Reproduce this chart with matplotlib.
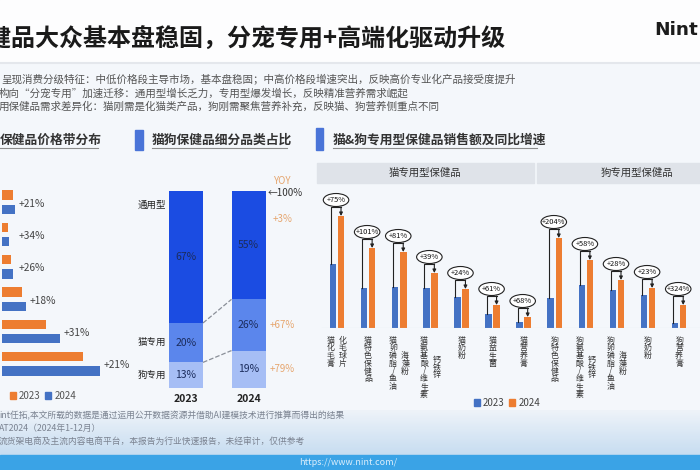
import numpy as np
import matplotlib
matplotlib.use('Agg')
import matplotlib.pyplot as plt
from matplotlib.patches import Rectangle, Ellipse, Patch

plt.rcParams['font.family'] = ['Noto Sans CJK SC', 'DejaVu Sans']

# ---------------- data ----------------
# price band distribution (bar length, 2023 vs 2024)
price_2023 = [10.5, 5.5, 8.5, 19.5, 44, 81]
price_2024 = [12.5, 7.0, 10.5, 24, 58, 98]
price_yoy = ['+21%', '+34%', '+26%', '+18%', '+31%', '+21%']

# category share (%)
share_years = ['2023', '2024']
share_types = ['通用型', '猫专用', '狗专用']
share_general = [67, 55]
share_cat = [20, 26]
share_dog = [13, 19]
share_yoy = ['+3%', '+67%', '+79%']

# cat & dog special health products
spec_labels = [('猫化毛膏', '化毛球片'), ('猫特色保健品', ''), ('猫卵磷脂/鱼油', '海藻粉'),
               ('猫氨基酸/维生素', '钙铁锌'), ('猫奶粉', ''), ('猫益生菌', ''), ('猫营养膏', ''),
               ('狗特色保健品', ''), ('狗氨基酸/维生素', '钙铁锌'), ('狗卵磷脂/鱼油', '海藻粉'),
               ('狗奶粉', ''), ('狗营养膏', '')]
spec_2023 = [64, 40, 41, 40, 31, 14, 6.5, 30, 43, 38, 33, 5.5]
spec_2024 = [112, 80, 76, 55, 39, 23, 11, 90, 68, 48, 40, 23]
spec_yoy = ['+75%', '+101%', '+81%', '+39%', '+24%', '+61%', '+68%',
            '+204%', '+58%', '+28%', '+23%', '+324%']

bullets = ['呈现消费分级特征：中低价格段主导市场，基本盘稳固；中高价格段增速突出，反映高价专业化产品接受度提升',
           '构向“分宠专用”加速迁移：通用型增长乏力，专用型爆发增长，反映精准营养需求崛起',
           '用保健品需求差异化：猫刚需是化猫类产品，狗刚需聚焦营养补充，反映猫、狗营养侧重点不同']
notes = ['int任拓,本文所载的数据是通过运用公开数据资源并借助AI建模技术进行推算而得出的结果',
         'AT2024（2024年1-12月）',
         '流货架电商及主流内容电商平台，本报告为行业快速报告，未经审计，仅供参考']

ORANGE = '#ed7d31'
BLUE = '#4472c4'
W, H = 700, 470

fig = plt.figure(figsize=(7, 4.7), dpi=100)


def px_axes(x0, y0, x1, y1):
    ax = fig.add_axes([x0 / W, 1 - y1 / H, (x1 - x0) / W, (y1 - y0) / H])
    ax.patch.set_alpha(0)
    return ax


# ---------------- background / page ----------------
ax0 = fig.add_axes([0, 0, 1, 1])
ax0.set_xlim(0, W)
ax0.set_ylim(H, 0)
ax0.axis('off')
ax0.add_patch(Rectangle((0, 0), W, H, color='#f4f7fb', zorder=0))
ax0.add_patch(Rectangle((0, 0), W, 62, color='#fdfdfe', zorder=0))
ax0.plot([0, W], [62.5, 62.5], color='#e4e7ec', lw=1.5, zorder=1)
grad = np.linspace(0, 1, 50).reshape(-1, 1)
ax0.imshow(grad, extent=[0, W, 455, 410], cmap=matplotlib.colors.LinearSegmentedColormap.from_list(
    'f', ['#eef3f9', '#c7ddf1']), aspect='auto', zorder=0)
ax0.add_patch(Rectangle((0, 455), W, 15, color='#3aa3e6', zorder=1))
ax0.text(348, 462.5, 'https://www.nint.com/', fontsize=6.5, color='#dbeefc', ha='center', va='center')

ax0.text(-36, 40, '保健品大众基本盘稳固，分宠专用+高端化驱动升级', fontsize=17.3, fontweight='bold',
         color='#1a1a1a', ha='left', va='center')
ax0.text(654, 30, 'Nint', fontsize=13.3, fontweight='bold', color='#1c1c1c', ha='left', va='center',
         family='DejaVu Sans')
for k, line in enumerate(bullets):
    ax0.text(1 if k == 0 else -1, 80 + 13.5 * k, line, fontsize=7.6, color='#555555', ha='left', va='center')
for k, line in enumerate(notes):
    ax0.text(-1, 416 + 12.5 * k, line, fontsize=6.3, color='#7a8290', ha='left', va='center')

# section titles
ax0.text(0, 140, '保健品价格带分布', fontsize=9.2, fontweight='bold', color='#333333', va='center')
ax0.plot([0, 98], [148, 148], color='#8c8c8c', lw=0.8)
ax0.add_patch(Rectangle((135, 130), 8, 20, color='#4a74d8'))
ax0.text(152, 140, '猫狗保健品细分品类占比', fontsize=9.2, fontweight='bold', color='#333333', va='center')
ax0.plot([152, 287], [148, 148], color='#8c8c8c', lw=0.8)
ax0.add_patch(Rectangle((316, 128), 7, 22, color='#4a74d8'))
ax0.text(333, 140, '猫&狗专用型保健品销售额及同比增速', fontsize=9.2, fontweight='bold', color='#333333',
         va='center')
ax0.plot([333, 537], [148, 148], color='#8c8c8c', lw=0.8)

# header boxes of right panel
ax0.add_patch(Rectangle((317, 163), 217, 20, color='#dfe3e9'))
ax0.add_patch(Rectangle((537, 163), 170, 20, color='#dfe3e9'))
ax0.text(425, 173, '猫专用型保健品', fontsize=7.5, color='#333333', ha='center', va='center')
ax0.text(637, 173, '狗专用型保健品', fontsize=7.5, color='#333333', ha='center', va='center')

# ---------------- left: price bands ----------------
ax1 = px_axes(2, 186, 130, 380)
y = np.arange(len(price_2023))
ax1.barh(y - 0.22, price_2023, height=0.29, color=ORANGE)
ax1.barh(y + 0.22, price_2024, height=0.29, color=BLUE)
for i, (v, t) in enumerate(zip(price_2024, price_yoy)):
    ax1.text(max(v, 13) + 4, i + 0.05, t, fontsize=7.3, color='#444444', va='center')
ax1.set_ylim(5.5, -0.5)
ax1.set_xlim(0, 128)
ax1.axis('off')
fig.legend(handles=[Patch(color=ORANGE), Patch(color=BLUE)], labels=['2023', '2024'],
           loc='center', bbox_to_anchor=(43 / W, 1 - 396 / H), ncol=2, frameon=False, fontsize=7,
           handlelength=0.6, handleheight=0.6, handletextpad=0.3, columnspacing=0.5, labelcolor='#555555')

# ---------------- middle: category share ----------------
ax2 = px_axes(148.5, 191, 286, 388)
x = np.arange(len(share_years))
bw = 0.544
ax2.bar(x, share_dog, width=bw, color='#a6bef5')
ax2.bar(x, share_cat, width=bw, bottom=share_dog, color='#5b86ec')
bottom_gen = np.array(share_dog) + np.array(share_cat)
ax2.bar(x, share_general, width=bw, bottom=bottom_gen, color='#1b4ce2')
for i in x:
    segs = [(share_dog[i], 0), (share_cat[i], share_dog[i]), (share_general[i], bottom_gen[i])]
    for v, b in segs:
        ax2.text(i, b + v / 2, f'{v}%', fontsize=7.5, color='#1b2c5c', ha='center', va='center')
# dashed connectors
ax2.plot([bw / 2, 1 - bw / 2], [bottom_gen[0], bottom_gen[1]], ls='--', color='#8a8f98', lw=0.9)
ax2.plot([bw / 2, 1 - bw / 2], [share_dog[0], share_dog[1]], ls='--', color='#8a8f98', lw=0.9)
# type labels
ax2.text(-0.54, 93, share_types[0], fontsize=6.8, color='#222222', ha='center', va='center')
ax2.text(-0.54, share_dog[0] + share_cat[0] / 2, share_types[1], fontsize=6.8, color='#222222',
         ha='center', va='center')
ax2.text(-0.54, share_dog[0] / 2, share_types[2], fontsize=6.8, color='#222222', ha='center', va='center')
# yoy
ax2.text(1.54, 105, 'YOY', fontsize=7, color='#e6a66f', ha='center', va='center')
ax2.text(1.3, 99, '←100%', fontsize=7, color='#333333', ha='left', va='center')
ax2.text(1.54, 86, share_yoy[0], fontsize=7, color='#e6a66f', ha='center', va='center')
ax2.text(1.54, share_dog[1] + share_cat[1] / 2, share_yoy[1], fontsize=7, color='#e6a66f',
         ha='center', va='center')
ax2.text(1.54, share_dog[1] / 2, share_yoy[2], fontsize=7, color='#e6a66f', ha='center', va='center')
ax2.set_xlim(-0.6, 1.6)
ax2.set_ylim(0, 100)
ax2.set_xticks(x, share_years, fontsize=7.5, fontweight='bold', color='#222222')
ax2.tick_params(length=0, pad=4)
ax2.set_yticks([])
for s in ax2.spines.values():
    s.set_visible(False)

# ---------------- right: special products ----------------
ax3 = px_axes(318, 188, 700, 328)
xi = np.arange(len(spec_2023))
off = 0.13
ax3.bar(xi - off, spec_2023, width=0.21, color=BLUE, zorder=2)
ax3.bar(xi + off, spec_2024, width=0.21, color=ORANGE, zorder=2)
ax3.axhline(0, color='#cfd5dd', lw=0.8, xmin=0.01)
for i in xi:
    xb = i - off - 0.06
    xo = i + off
    yh = spec_2024[i] + 9
    ax3.plot([xb, xb, xo], [spec_2023[i], yh, yh], color='#222222', lw=0.8, zorder=3)
    ax3.annotate('', xy=(xo, spec_2024[i]), xytext=(xo, yh),
                 arrowprops=dict(arrowstyle='-|>', color='#222222', lw=0.8, mutation_scale=5,
                                 shrinkA=0, shrinkB=0), zorder=3)
    xc = (xb + xo) / 2
    ax3.add_patch(Ellipse((xc, yh + 7), 0.82, 13, facecolor='white', edgecolor='#222222', lw=0.8,
                          zorder=4, clip_on=False))
    ax3.text(xc, yh + 7, spec_yoy[i], fontsize=5.4, color='#111111', ha='center', va='center',
             zorder=5, clip_on=False)
    # vertical labels
    c1, c2 = spec_labels[i]
    step = 7.75
    x1 = i - 0.2 if c2 else i
    for k, ch in enumerate(c1):
        ax3.text(x1, -12 - step * k, ch, fontsize=5.7, color='#333333', ha='center', va='center',
                 clip_on=False)
    if c2:
        cy = -12 - step * (len(c1) - 1) / 2
        for k, ch in enumerate(c2):
            ax3.text(i + 0.19, cy + step * ((len(c2) - 1) / 2 - k), ch, fontsize=5.7, color='#333333',
                     ha='center', va='center', clip_on=False)
ax3.set_xlim(-0.61, 11.67)
ax3.set_ylim(0, 140)
ax3.axis('off')
fig.legend(handles=[Patch(color=BLUE), Patch(color=ORANGE)], labels=['2023', '2024'],
           loc='center', bbox_to_anchor=(507 / W, 1 - 403 / H), ncol=2, frameon=False, fontsize=7,
           handlelength=0.6, handleheight=0.6, handletextpad=0.3, columnspacing=0.5, labelcolor='#444444')

fig.savefig('out.png', dpi=100)
